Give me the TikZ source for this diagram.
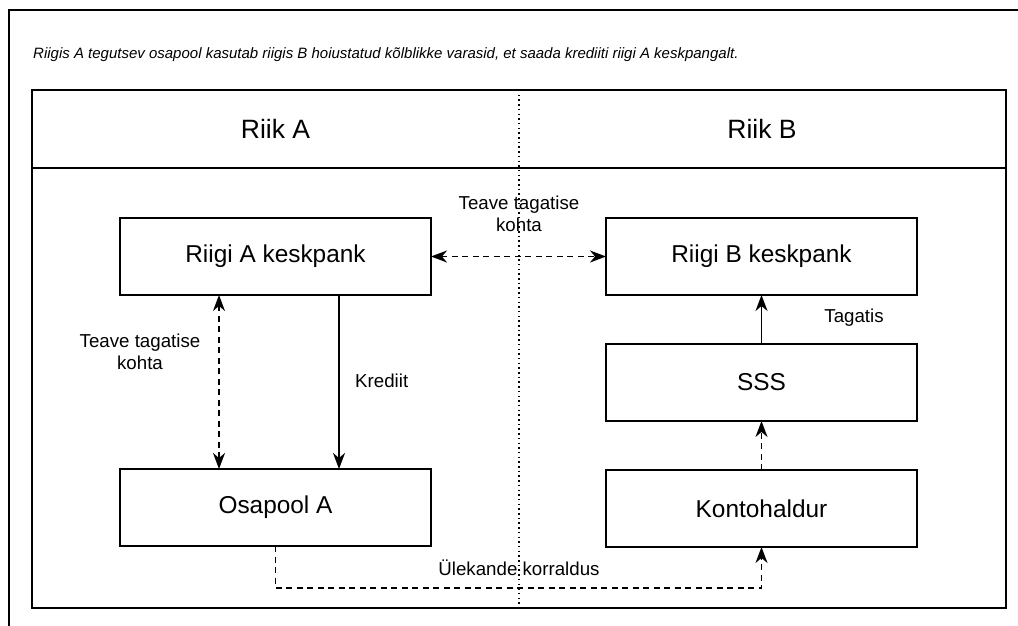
\documentclass[tikz,border=0pt]{standalone}
\usepackage{fontspec}
\setmainfont{Liberation Sans}
\usetikzlibrary{arrows.meta, positioning}

\begin{document}
\begin{tikzpicture}[
            x=1pt, y=1pt,
            node distance=175pt,
            box/.style={rectangle, draw, line width=1.6pt, outer sep=0pt, minimum width=311pt, minimum height=77pt, inner sep=0pt, font=\fontsize{24.4}{29}\selectfont},
            lbl/.style={align=center, inner sep=0pt, font=\fontsize{18.7}{22.5}\selectfont},
            arrow/.style={-{Stealth[length=16pt, width=12pt, inset=5pt]}, line width=1.6pt},
            dblarrow/.style={{Stealth[length=16pt, width=12pt, inset=5pt]}-{Stealth[length=16pt, width=12pt, inset=5pt]}, line width=1.6pt},
            dashes/.style={dash pattern=on 6pt off 4.5pt},
            frame/.style={line width=1.8pt}
        ]
        \useasboundingbox (0,0) rectangle (1018,-626);

        % Frames and the border between the two countries
        \draw[frame] (9,-626) -- (9,-10) -- (1018,-10);
        \draw[frame] (32,-90) rectangle (1006,-608);
        \draw[frame] (32,-168) -- (1006,-168);
        \coordinate (bordertop) at (519,-90);
        \coordinate (borderbot) at (519,-608);
        \draw[line width=1.5pt, dash pattern=on 1.5pt off 3.2pt] (bordertop) -- (borderbot);

        % Caption and country titles
        \node[anchor=west, inner sep=0pt, font=\fontsize{15}{18}\selectfont\itshape] (caption) at (33,-55) {Riigis A tegutsev osapool kasutab riigis B hoiustatud kõlblikke varasid, et saada krediiti riigi A keskpangalt.};
        \node[font=\fontsize{26.5}{31}\selectfont] (titleA) at (275.5,-129) {Riik A};
        \node[font=\fontsize{26.5}{31}\selectfont] (titleB) at (762,-129) {Riik B};

        % Riik A
        \node[box] (bankA) at (275.5,-256.5) {Riigi A keskpank};
        \node[box, below=174pt of bankA] (partyA) {Osapool A};

        % Riik B
        \node[box, right=of bankA] (bankB) {Riigi B keskpank};
        \node[box, below=49pt of bankB] (sss) {SSS};
        \node[box, below=49pt of sss] (custodian) {Kontohaldur};

        % Connectors
        \draw[dblarrow, dashes] (bankA) -- (bankB);
        \node[lbl] (infoB) at (519,-214) {Teave tagatise\\kohta};

        \draw[dblarrow, dashes] ([xshift=-56.5pt]bankA.south) -- ([xshift=-56.5pt]partyA.north);
        \node[lbl] (infoA) at (140,-352) {Teave tagatise\\kohta};

        \draw[arrow] ([xshift=63.5pt]bankA.south) -- ([xshift=63.5pt]partyA.north);
        \node[lbl, anchor=west] (credit) at (355,-381) {Krediit};

        \draw[arrow] (sss) -- (bankB);
        \node[lbl] (collateral) at (854,-318) {Tagatis};

        \draw[arrow, dashes] (custodian) -- (sss);

        \draw[arrow, dashes] (partyA.south) -- ++(0,-42) -| (custodian.south);
        \node[lbl] (transfer) at (519,-568) {Ülekande korraldus};

    \end{tikzpicture}
\end{document}
